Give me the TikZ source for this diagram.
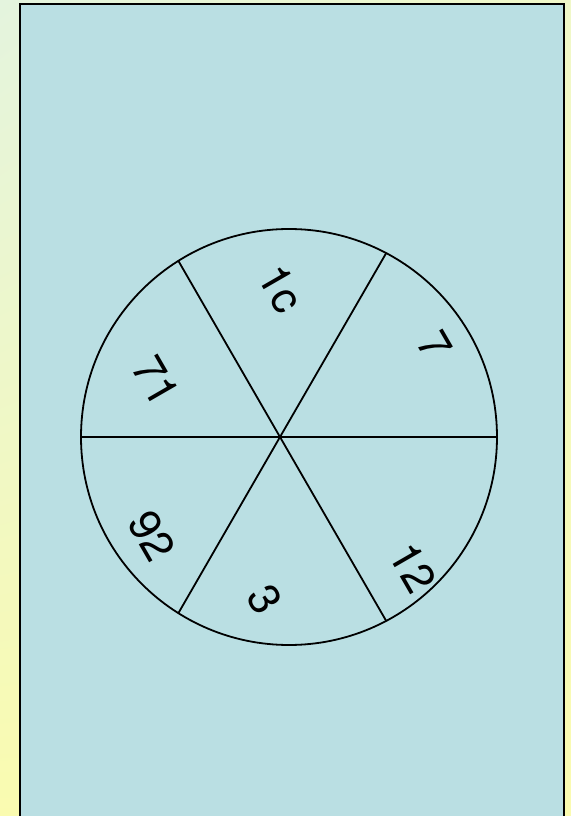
\documentclass[tikz,border=0pt]{standalone}
\usepackage{fontspec}
\setmainfont{TeX Gyre Heros}
\usepackage{xcolor}
\usetikzlibrary{shadings}

\definecolor{panel}{HTML}{BADFE3}
\definecolor{bgtl}{HTML}{E4F4DE}
\definecolor{bgtr}{HTML}{F0F8C8}
\definecolor{bgbot}{HTML}{FAFBB0}

\tikzset{
  rim/.style={line width=0.9pt},
  spoke/.style={line width=0.9pt},
  tag/.style={font=\fontsize{22}{22}\selectfont,rotate=-60,inner sep=0pt}
}

\begin{document}
\begin{tikzpicture}[x=0.5pt,y=0.5pt]
  \useasboundingbox (0,0) rectangle (571,816);
  \shade[upper left=bgtl,upper right=bgtr,lower left=bgbot,lower right=bgbot]
    (0,0) rectangle (571,816);
  \begin{scope}
    \clip (0,0) rectangle (571,816);
    \draw[line width=1pt,fill=panel] (20,812) rectangle (564,-10);
  \end{scope}
  % wheel
  \coordinate (hub) at (280,379);
  \coordinate (c) at (289,379);
  \draw[rim] (c) circle[radius=208];
  \coordinate (e0) at (497,379);
  \coordinate (e60) at (386.2,562.9);
  \coordinate (e120) at (178.4,555.1);
  \coordinate (e180) at (81,379);
  \coordinate (e240) at (178.4,202.9);
  \coordinate (e300) at (386.2,195.1);
  \foreach \a in {0,60,120,180,240,300}
    \draw[spoke] (hub) -- (e\a);
  % labels
  \foreach \x/\y/\n/\t in {
    281/527/top/1c, 435/471/upright/7, 156/435/upleft/71,
    152/280/lowleft/92, 265/217/bottom/3, 413/248/lowright/12}
    \node[tag] (lab-\n) at (\x,\y) {\t};
\end{tikzpicture}
\end{document}
